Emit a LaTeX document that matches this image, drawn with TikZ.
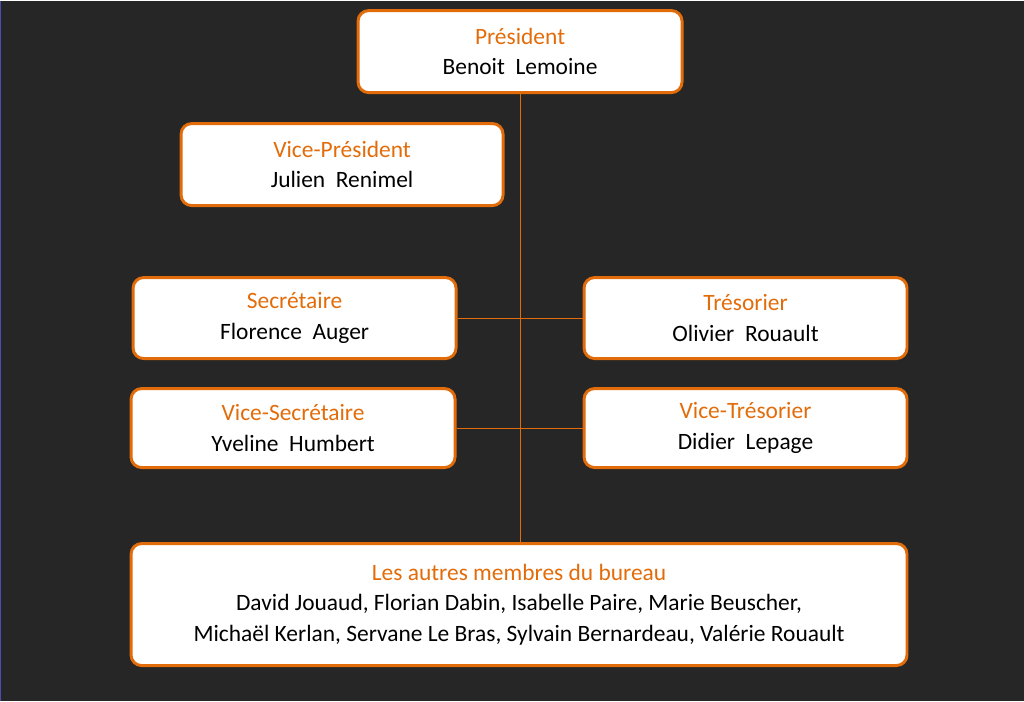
\documentclass[tikz,border=0pt]{standalone}
\usepackage{fontspec}
\setmainfont{Carlito}
\usepackage{tikz}
\definecolor{bgdark}{HTML}{262626}
\definecolor{bureauorange}{HTML}{E36C0A}

\begin{document}
\begin{tikzpicture}[x=0.03cm, y=-0.03cm,
  every node/.style={font=\fontsize{20}{26}\selectfont},
  membre/.style={draw=bureauorange, line width=2.5pt, fill=white,
    rounded corners=9pt, align=center, inner sep=0pt},
  lien/.style={bureauorange, line width=0.6pt}]
  % Background
  \fill[bgdark] (0,0) rectangle (1024,700);
  \draw[blue!40!gray, line width=1pt] (0.5,0) -- (0.5,700);

  % Boxes of the bureau
  \node[membre, minimum width=324*0.03cm, minimum height=82*0.03cm] (pres) at (520,51)
    {{\color{bureauorange}Président}\\Benoit\ \ Lemoine};
  \node[membre, minimum width=322*0.03cm, minimum height=82*0.03cm] (vpres) at (342,164)
    {{\color{bureauorange}Vice-Président}\\Julien\ \ Renimel};
  \node[membre, minimum width=323*0.03cm, minimum height=81*0.03cm] (secr) at (294.5,317.5)
    {{\color{bureauorange}Secrétaire}\\Florence\ \ Auger};
  \node[membre, minimum width=323*0.03cm, minimum height=81*0.03cm] (tres) at (745.5,317.5)
    {{\color{bureauorange}Trésorier}\\Olivier\ \ Rouault};
  \node[membre, minimum width=324*0.03cm, minimum height=79*0.03cm] (vsecr) at (293,427.5)
    {{\color{bureauorange}Vice-Secrétaire}\\Yveline\ \ Humbert};
  \node[membre, minimum width=323*0.03cm, minimum height=79*0.03cm] (vtres) at (745.5,427.5)
    {{\color{bureauorange}Vice-Trésorier}\\Didier\ \ Lepage};
  \node[membre, minimum width=776*0.03cm, minimum height=122*0.03cm] (autres) at (519,604)
    {{\color{bureauorange}Les autres membres du bureau}\\
     David Jouaud, Florian Dabin, Isabelle Paire, Marie Beuscher,\\
     Michaël Kerlan, Servane Le Bras, Sylvain Bernardeau, Valérie Rouault};

  % Connectors
  \draw[lien] (pres.south) -- (pres.south |- autres.north);
  \draw[lien] (secr.east) -- (tres.west);
  \draw[lien] (vsecr.east) -- (vtres.west);
\end{tikzpicture}
\end{document}
